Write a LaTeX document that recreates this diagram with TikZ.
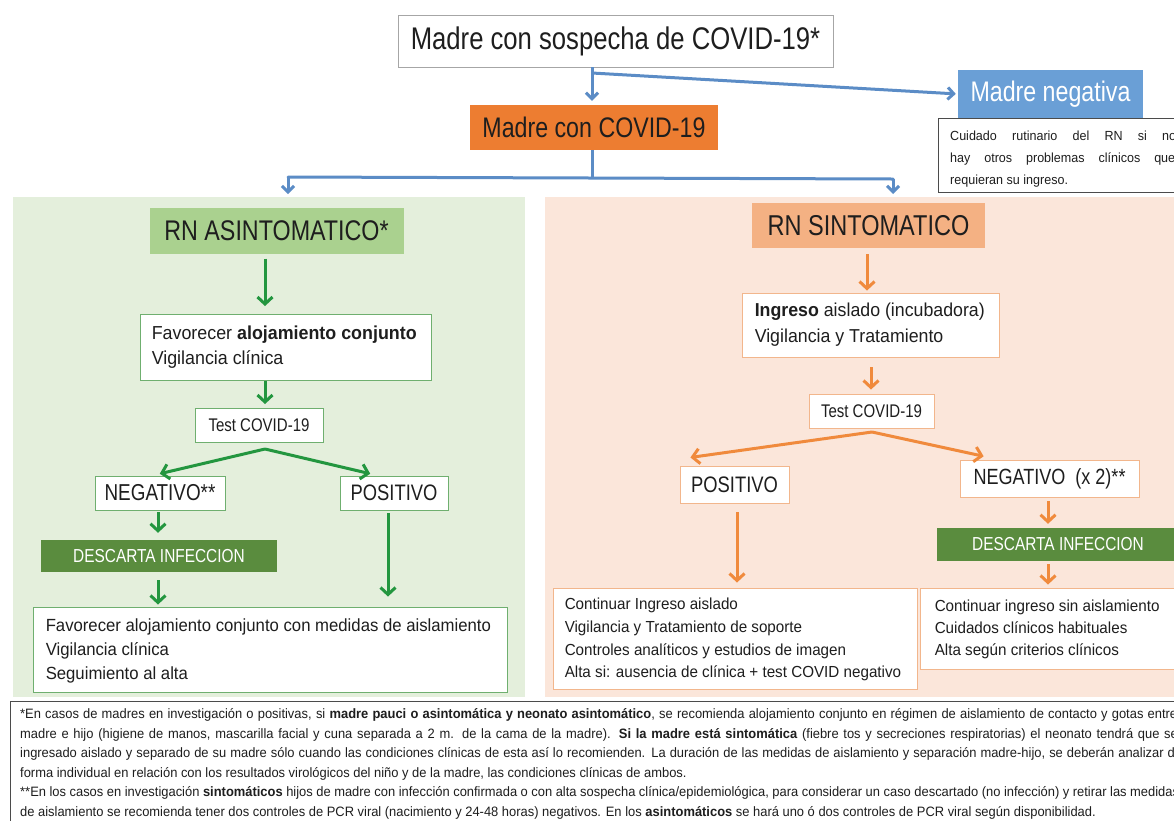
\documentclass[tikz,border=0pt]{standalone}
\usepackage{fontspec}
\setmainfont{Liberation Sans}[FakeStretch=0.95]
\newfontfamily\narrowf{Liberation Sans}[FakeStretch=0.82]
\newfontfamily\bodyf{Liberation Sans}[FakeStretch=0.95]
\usetikzlibrary{arrows.meta}
\definecolor{blueln}{HTML}{5B8CC6}
\definecolor{bluefill}{HTML}{6A9FD6}
\definecolor{orng}{HTML}{ED7D31}
\definecolor{orarr}{HTML}{F08A3C}
\definecolor{orbord}{HTML}{F2B68C}
\definecolor{grarr}{HTML}{23963F}
\definecolor{grbord}{HTML}{6FAF6F}
\definecolor{grpanel}{HTML}{E4EFDC}
\definecolor{orpanel}{HTML}{FBE6DA}
\definecolor{grhead}{HTML}{AAD18F}
\definecolor{orhead}{HTML}{F4B183}
\definecolor{grdark}{HTML}{5A8C3E}
\definecolor{txt}{HTML}{1E1E1E}
\tikzset{
  bx/.style={draw=#1, fill=white, line width=0.9pt, inner sep=0pt, text=txt},
  fl/.style={fill=#1, inner sep=0pt, text=txt},
  bt/.style={anchor=west, inner sep=0pt, align=left, text=txt},
  tipg/.style={-{Straight Barb[length=7pt,width=15pt,line width=3pt]}},
  garr/.style={draw=grarr, line width=3pt, tipg},
  oarr/.style={draw=orarr, line width=3pt, tipg},
  bl/.style={draw=blueln, line width=3pt},
  blarr/.style={bl, -{Straight Barb[length=6pt,width=12pt,line width=3pt]}},
  fn/.style={anchor=base west, inner sep=0pt, text=txt, font=\bodyf\fontsize{13.6}{15}\selectfont},
  cu/.style={anchor=base west, inner sep=0pt, text=txt, font=\bodyf\fontsize{13.2}{15}\selectfont},
}
\begin{document}
\begin{tikzpicture}[x=1pt,y=-1pt]
\useasboundingbox (0,0) rectangle (1174,820);
\clip (0,0) rectangle (1174,820);
\fill[white] (0,0) rectangle (1174,820);

% panels
\fill[grpanel] (13,197) rectangle (525,697);
\fill[orpanel] (545,197) rectangle (1180,697);

% top
\node[bx=gray!70, minimum width=435pt, minimum height=52pt, font=\narrowf\fontsize{31.3}{36}\selectfont] (top) at (615.5,41)
  {Madre con sospecha de COVID-19*};
\node[fl=bluefill, text=white, minimum width=185pt, minimum height=48pt, font=\narrowf\fontsize{28.3}{32}\selectfont] (neg) at (1050.5,94)
  {Madre negativa};
\node[bx=txt!80, minimum width=247pt, minimum height=74pt, anchor=north west] (cuid) at (938,118) {};
\node[cu] (cu1) at (950,140) {\makebox[226pt][s]{Cuidado rutinario del RN si no}};
\node[cu] (cu2) at (950,162) {\makebox[225pt][s]{hay otros problemas clínicos que}};
\node[cu] (cu3) at (950,184) {requieran su ingreso.};
\node[fl=orng, minimum width=248pt, minimum height=45pt, font=\narrowf\fontsize{28.3}{32}\selectfont] (mc) at (594,127.5)
  {Madre con COVID-19};

% blue connectors
\coordinate (j1) at (592,73);
\coordinate (j2) at (592,178);
\coordinate (jL) at (288,177);
\coordinate (jR) at (893,179);
\draw[bl] (top.south -| j1) -- (j1);
\draw[blarr, shorten >=4pt] (j1) -- (mc.north -| j1);
\draw[blarr, shorten >=2pt] (j1) -- (neg.west);
\draw[bl] (mc.south -| j2) -- (j2);
\draw[bl, line cap=round] (jL) -- (jR);
\draw[blarr] (jL) -- ++(0,17);
\draw[blarr] (jR) -- ++(0,15);

% ---------- left (asintomatico)
\node[fl=grhead, minimum width=254pt, minimum height=46pt, font=\narrowf\fontsize{28.4}{32}\selectfont] (rnA) at (276.5,230.5)
  {RN ASINTOMATICO*};
\node[bx=grbord, minimum width=291pt, minimum height=66pt] (fav) at (285.5,347.5) {};
\node[bt, font=\bodyf\fontsize{18.8}{25}\selectfont] (favt) at ([xshift=12pt]fav.west)
  {Favorecer \textbf{alojamiento conjunto}\\Vigilancia clínica};
\node[bx=grbord, minimum width=128pt, minimum height=34pt, font=\narrowf\fontsize{18.3}{21}\selectfont] (testA) at (259,425.5)
  {Test COVID-19};
\node[bx=grbord, minimum width=130pt, minimum height=34pt, font=\narrowf\fontsize{23}{26}\selectfont] (negA) at (160,493)
  {NEGATIVO**};
\node[bx=grbord, minimum width=108pt, minimum height=34pt, font=\narrowf\fontsize{22.4}{26}\selectfont] (posA) at (394,493)
  {POSITIVO};
\node[fl=grdark, text=white, minimum width=236pt, minimum height=32pt, font=\narrowf\fontsize{18.8}{22}\selectfont] (descA) at (159,556)
  {DESCARTA INFECCION};
\node[bx=grbord, minimum width=474pt, minimum height=85pt] (finA) at (270,649.5) {};
\node[bt, font=\bodyf\fontsize{17.6}{24}\selectfont] (finAt) at ([xshift=13pt,yshift=-1pt]finA.west)
  {Favorecer alojamiento conjunto con medidas de aislamiento\\Vigilancia clínica\\Seguimiento al alta};

\coordinate (xA) at (265,0);
\coordinate (xN) at (158,0);
\coordinate (xP) at (388,0);
\coordinate (apA) at (265,449);
\draw[garr, shorten <=5pt, shorten >=8pt] (rnA.south -| xA) -- (fav.north -| xA);
\draw[garr, shorten >=4pt] (fav.south -| xA) -- (testA.north -| xA);
\draw[garr, shorten >=8pt] (apA) -- ([xshift=-8pt]negA.north);
\draw[garr, shorten >=8pt] (apA) -- ([xshift=-16pt]posA.north);
\draw[garr, shorten <=2pt, shorten >=7pt] (negA.south -| xN) -- (descA.north -| xN);
\draw[garr, shorten <=8pt, shorten >=2pt] (descA.south -| xN) -- (finA.north -| xN);
\draw[garr, shorten <=3pt, shorten >=10pt] (posA.south -| xP) -- (finA.north -| xP);

% ---------- right (sintomatico)
\node[fl=orhead, minimum width=233pt, minimum height=45pt, font=\narrowf\fontsize{28.7}{32}\selectfont] (rnS) at (868.5,225.5)
  {RN SINTOMATICO};
\node[bx=orbord, minimum width=257pt, minimum height=64pt] (ing) at (870.5,325) {};
\node[bt, font=\bodyf\fontsize{18.7}{26}\selectfont] (ingt) at ([xshift=13pt]ing.west)
  {\textbf{Ingreso} aislado (incubadora)\\Vigilancia y Tratamiento};
\node[bx=orbord, minimum width=125pt, minimum height=34pt, font=\narrowf\fontsize{18.3}{21}\selectfont] (testS) at (871.5,411)
  {Test COVID-19};
\node[bx=orbord, minimum width=109pt, minimum height=37pt, font=\narrowf\fontsize{22.4}{26}\selectfont] (posS) at (734.5,484.5)
  {POSITIVO};
\node[bx=orbord, minimum width=179pt, minimum height=37pt, font=\narrowf\fontsize{22}{26}\selectfont] (negS) at (1049.5,478.5)
  {NEGATIVO\ \ (x 2)**};
\node[fl=grdark, text=white, minimum width=242pt, minimum height=33pt, font=\narrowf\fontsize{18.8}{22}\selectfont] (descS) at (1058,544.5)
  {DESCARTA INFECCION};
\node[bx=orbord, minimum width=364pt, minimum height=101pt] (finS1) at (735,638.5) {};
\node[bt, font=\bodyf\fontsize{16}{22.7}\selectfont] (finS1t) at ([xshift=12pt,yshift=-1pt]finS1.west)
  {Continuar Ingreso aislado\\Vigilancia y Tratamiento de soporte\\Controles analíticos y estudios de imagen\\Alta si: ausencia de clínica + test COVID negativo};
\node[bx=orbord, minimum width=260pt, minimum height=81pt] (finS2) at (1050,628.5) {};
\node[bt, font=\bodyf\fontsize{16}{22}\selectfont] (finS2t) at ([xshift=15pt,yshift=-1pt]finS2.west)
  {Continuar ingreso sin aislamiento\\Cuidados clínicos habituales\\Alta según criterios clínicos};

\coordinate (xS) at (867,0);
\coordinate (xT) at (871,0);
\coordinate (xPS) at (737,0);
\coordinate (xNS) at (1048,0);
\coordinate (apS) at (872,432);
\draw[oarr, shorten <=6pt, shorten >=2pt] (rnS.south -| xS) -- (ing.north -| xS);
\draw[oarr, shorten <=10pt, shorten >=4pt] (ing.south -| xT) -- (testS.north -| xT);
\draw[oarr, shorten >=8pt] (apS) -- ([xshift=-52pt,yshift=7pt]posS.north);
\draw[oarr, shorten >=6pt] (apS) -- ([xshift=-60pt,yshift=2pt]negS.north);
\draw[oarr, shorten <=9pt, shorten >=5pt] (posS.south -| xPS) -- (finS1.north -| xPS);
\draw[oarr, shorten <=4pt, shorten >=4pt] (negS.south -| xNS) -- (descS.north -| xNS);
\draw[oarr, shorten <=3pt, shorten >=3pt] (descS.south -| xNS) -- (finS2.north -| xNS);

% ---------- footnote
\node[bx=txt!80, minimum width=1170pt, minimum height=125pt, anchor=north west] (foot) at (10,701) {};
\node[fn] (f1) at (20,718.5) {\makebox[1157pt][s]{*En casos de madres en investigación o positivas, si \textbf{madre pauci o asintomática y neonato asintomático}, se recomienda alojamiento conjunto en régimen de aislamiento de contacto y gotas entre}};
\node[fn] (f2) at (20,738) {\makebox[1162pt][s]{madre e hijo (higiene de manos, mascarilla facial y cuna separada a 2 m. de la cama de la madre). \textbf{Si la madre está sintomática} (fiebre tos y secreciones respiratorias) el neonato tendrá que ser}};
\node[fn] (f3) at (20,757.5) {\makebox[1162pt][s]{ingresado aislado y separado de su madre sólo cuando las condiciones clínicas de esta así lo recomienden. La duración de las medidas de aislamiento y separación madre-hijo, se deberán analizar de}};
\node[fn] (f4) at (20,777) {forma individual en relación con los resultados virológicos del niño y de la madre, las condiciones clínicas de ambos.};
\node[fn] (f5) at (20,796.5) {\makebox[1159pt][s]{**En los casos en investigación \textbf{sintomáticos} hijos de madre con infección confirmada o con alta sospecha clínica/epidemiológica, para considerar un caso descartado (no infección) y retirar las medidas}};
\node[fn] (f6) at (20,816) {de aislamiento se recomienda tener dos controles de PCR viral (nacimiento y 24-48 horas) negativos. En los \textbf{asintomáticos} se hará uno ó dos controles de PCR viral según disponibilidad.};
\end{tikzpicture}
\end{document}
